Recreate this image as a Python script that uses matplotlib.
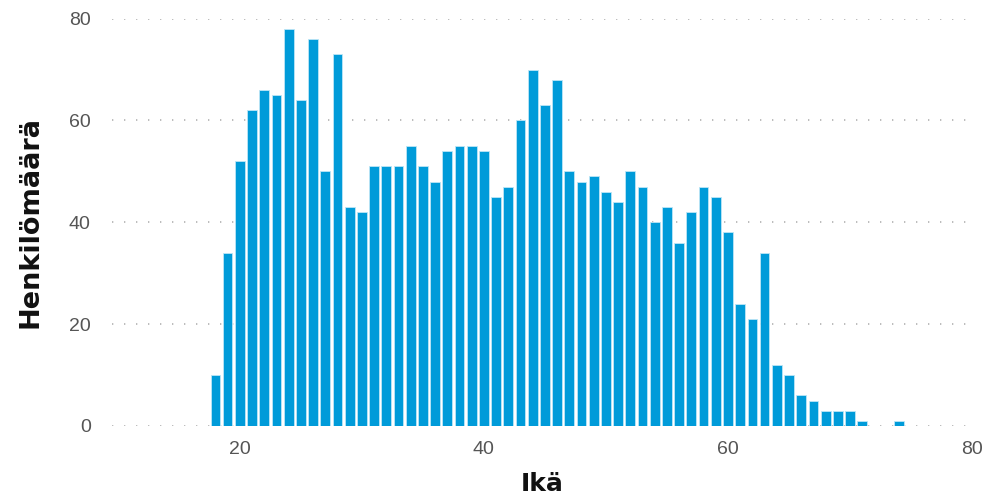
import matplotlib.pyplot as plt

# Ikäjakauma: ikä (vuotta) ja henkilömäärä
ika = list(range(18, 75))
henkilot = [10, 34, 52, 62, 66, 65, 78, 64, 76, 50,
            73, 43, 42, 51, 51, 51, 55, 51, 48, 54,
            55, 55, 54, 45, 47, 60, 70, 63, 68, 50,
            48, 49, 46, 44, 50, 47, 40, 43, 36, 42,
            47, 45, 38, 24, 21, 34, 12, 10, 6, 5,
            3, 3, 3, 1, 0, 0, 1]
y_ticks = [0, 20, 40, 60, 80]
x_ticks = [20, 40, 60, 80]

plt.rcParams['font.family'] = ['Liberation Sans', 'DejaVu Sans']

fig = plt.figure(figsize=(9.97, 4.98), dpi=100)
ax = fig.add_axes([0.112, 0.1446, 0.863, 0.818])

ax.bar(ika, henkilot, width=0.8, color='#009bd9', edgecolor='#bde6f6',
       linewidth=0.6, zorder=2)

ax.set_xlim(9.5, 80)
ax.set_ylim(0, 80)
ax.set_yticks(y_ticks)
ax.set_xticks(x_ticks)
ax.grid(axis='y', color='#b0b0b0', linestyle=(0, (0.8, 6.4)), linewidth=1.2, zorder=0)
ax.grid(axis='x', visible=False)
for s in ax.spines.values():
    s.set_visible(False)
ax.tick_params(length=0, labelsize=14, labelcolor='#555555')
ax.tick_params(axis='y', pad=15)
ax.tick_params(axis='x', pad=11)

ax.set_xlabel('Ikä', fontsize=18, fontweight='bold', color='#111111',
              family='DejaVu Sans', labelpad=10)
ax.set_ylabel('Henkilömäärä', fontsize=19.5, fontweight='bold', color='#111111',
              family='DejaVu Sans', labelpad=18)

fig.savefig('out.png', dpi=100)
